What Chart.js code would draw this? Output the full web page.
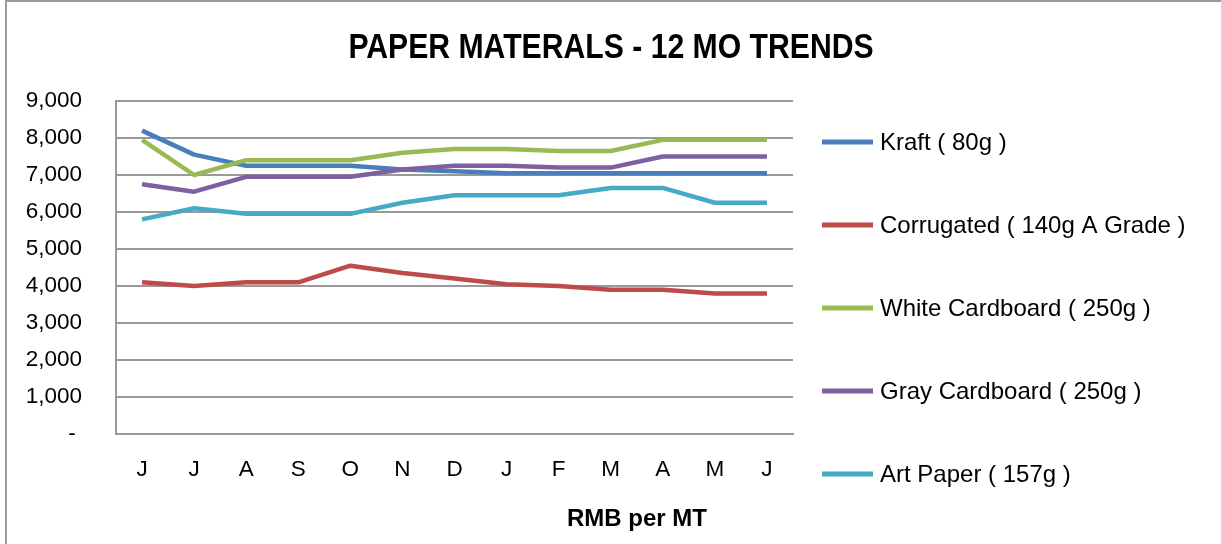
<!DOCTYPE html>
<html>
<head>
<meta charset="utf-8">
<title>Paper Materials - 12 Month Trends</title>
<script src="https://cdn.jsdelivr.net/npm/chart.js@4/dist/chart.umd.min.js"></script>
<style>
  html, body { margin: 0; padding: 0; background: #ffffff; overflow: hidden; }
  #frame {
    position: absolute; left: 5px; top: 0; width: 1300px; height: 600px;
    border-left: 2px solid #9a9a9a; border-top: 2px solid #9a9a9a;
  }
  #wrap { position: absolute; left: 0; top: 0; width: 1221px; height: 544px; }
</style>
</head>
<body>
<div id="frame"></div>
<div id="wrap"><canvas id="chart" width="1221" height="544"></canvas></div>
<script>
// Month initials, June through June
const months = ['J', 'J', 'A', 'S', 'O', 'N', 'D', 'J', 'F', 'M', 'A', 'M', 'J'];

// Prices in RMB per metric ton
const kraft      = [8200, 7550, 7250, 7250, 7250, 7150, 7100, 7050, 7050, 7050, 7050, 7050, 7050];
const corrugated = [4100, 4000, 4100, 4100, 4550, 4350, 4200, 4050, 4000, 3900, 3900, 3800, 3800];
const whiteCard  = [7950, 7000, 7400, 7400, 7400, 7600, 7700, 7700, 7650, 7650, 7950, 7950, 7950];
const grayCard   = [6750, 6550, 6950, 6950, 6950, 7150, 7250, 7250, 7200, 7200, 7500, 7500, 7500];
const artPaper   = [5800, 6100, 5950, 5950, 5950, 6250, 6450, 6450, 6450, 6650, 6650, 6250, 6250];

const seriesNames = [
  'Kraft ( 80g )',
  'Corrugated ( 140g A Grade )',
  'White Cardboard ( 250g )',
  'Gray Cardboard ( 250g )',
  'Art Paper ( 157g )'
];
const seriesColors = ['#4a7ebb', '#be4b48', '#98b954', '#7d60a0', '#46aac5'];
const seriesValues = [kraft, corrugated, whiteCard, grayCard, artPaper];

const yTicks = { min: 0, max: 9000, step: 1000 };

const chartTitle = 'PAPER MATERALS - 12 MO TRENDS';
const xAxisTitle = 'RMB per MT';

const GRID = '#9a9a9a';
const SANS = "'Liberation Sans', Arial, sans-serif";

// Title (condensed bold), legend on the right and the x-axis caption
const sideText = {
  id: 'sideText',
  afterDraw(chart) {
    const ctx = chart.ctx;
    const area = chart.chartArea;
    ctx.save();

    // condensed bold title, centred across the canvas
    ctx.font = 'bold 35px ' + SANS;
    ctx.textBaseline = 'alphabetic';
    ctx.textAlign = 'center';
    ctx.fillStyle = '#000000';
    const squeeze = 0.862;
    ctx.save();
    ctx.translate(chart.width / 2 + 0.5, 57.5);
    ctx.scale(squeeze, 1);
    ctx.fillText(chartTitle, 0, 0);
    ctx.restore();

    // legend
    const lx = area.right + 29;
    const firstY = 142, stepY = 83;
    ctx.font = '24px ' + SANS;
    ctx.textBaseline = 'middle';
    ctx.textAlign = 'left';
    chart.data.datasets.forEach((ds, i) => {
      const y = firstY + i * stepY;
      ctx.strokeStyle = ds.borderColor;
      ctx.lineWidth = 5;
      ctx.lineCap = 'butt';
      ctx.beginPath();
      ctx.moveTo(lx, y);
      ctx.lineTo(lx + 51, y);
      ctx.stroke();
      ctx.fillStyle = '#000000';
      ctx.fillText(ds.label, lx + 58, y + 1);
    });

    // axis caption
    ctx.font = 'bold 24px ' + SANS;
    ctx.textAlign = 'center';
    ctx.fillText(xAxisTitle, 637, 519);
    ctx.restore();
  }
};

new Chart(document.getElementById('chart'), {
  type: 'line',
  data: {
    labels: months,
    datasets: seriesValues.map((vals, i) => ({
      label: seriesNames[i],
      data: vals,
      borderColor: seriesColors[i],
      backgroundColor: seriesColors[i],
      borderWidth: 4.5,
      pointRadius: 0,
      tension: 0,
      fill: false,
      order: seriesValues.length - i,
      borderJoinStyle: 'round'
    }))
  },
  options: {
    responsive: false,
    animation: false,
    devicePixelRatio: 1,
    layout: { padding: { left: 0, right: 428, top: 101, bottom: 0 } },
    plugins: {
      legend: { display: false },
      tooltip: { enabled: false },
      title: { display: false }
    },
    scales: {
      x: {
        offset: true,
        grid: { display: false, offset: true },
        border: { display: true, color: GRID, width: 2 },
        ticks: {
          color: '#000000',
          font: { family: SANS, size: 22.5 },
          padding: 14,
          maxRotation: 0,
          autoSkip: false
        },
        afterFit(scale) { scale.height = 110; }
      },
      y: {
        min: yTicks.min,
        max: yTicks.max,
        grid: { color: GRID, lineWidth: 2, drawTicks: false },
        border: { display: true, color: GRID, width: 2 },
        ticks: {
          stepSize: yTicks.step,
          color: '#000000',
          font: { family: SANS, size: 22.5 },
          padding: 34,
          callback: (v) => v === 0 ? '- ' : Number(v).toLocaleString('en-US')
        },
        afterFit(scale) { scale.width = 116; }
      }
    }
  },
  plugins: [sideText]
});
</script>
</body>
</html>
